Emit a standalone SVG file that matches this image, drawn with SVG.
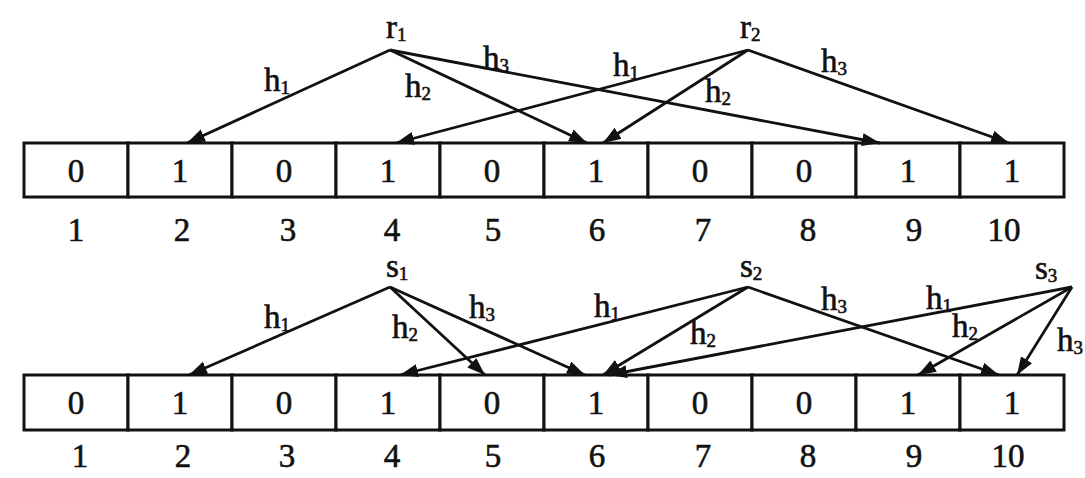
<svg xmlns="http://www.w3.org/2000/svg" width="1085" height="478" viewBox="0 0 1085 478">
<style>
.cell{fill:#fff;stroke:#111;stroke-width:3}
.t{font-family:"Liberation Serif","Times New Roman",serif;font-size:33px;fill:#111;stroke:#111;stroke-width:0.6}
.m{text-anchor:middle}
.sub{font-size:19px}
.c line{stroke:#111;stroke-width:2.8;marker-end:url(#ah)}
</style>
<defs>
<marker id="ah" markerUnits="userSpaceOnUse" markerWidth="20" markerHeight="14" refX="18" refY="6.5" orient="auto">
<path d="M0,0 L18,6.5 L0,13 Z" fill="#111"/>
</marker>
</defs>
<rect width="1085" height="478" fill="#fff"/>

<!-- top array -->
<g id="top-array">
<g id="r-cell1"><rect class="cell" x="24" y="143" width="104" height="54"/><text class="t m" x="76" y="182">0</text></g>
<g id="r-cell2"><rect class="cell" x="128" y="143" width="104" height="54"/><text class="t m" x="180" y="182">1</text></g>
<g id="r-cell3"><rect class="cell" x="232" y="143" width="104" height="54"/><text class="t m" x="284" y="182">0</text></g>
<g id="r-cell4"><rect class="cell" x="336" y="143" width="104" height="54"/><text class="t m" x="388" y="182">1</text></g>
<g id="r-cell5"><rect class="cell" x="440" y="143" width="104" height="54"/><text class="t m" x="492" y="182">0</text></g>
<g id="r-cell6"><rect class="cell" x="544" y="143" width="104" height="54"/><text class="t m" x="596" y="182">1</text></g>
<g id="r-cell7"><rect class="cell" x="648" y="143" width="104" height="54"/><text class="t m" x="700" y="182">0</text></g>
<g id="r-cell8"><rect class="cell" x="752" y="143" width="104" height="54"/><text class="t m" x="804" y="182">0</text></g>
<g id="r-cell9"><rect class="cell" x="856" y="143" width="104" height="54"/><text class="t m" x="908" y="182">1</text></g>
<g id="r-cell10"><rect class="cell" x="960" y="143" width="104" height="54"/><text class="t m" x="1012" y="182">1</text></g>
</g>
<g id="top-index">
<text class="t m" x="76" y="241">1</text>
<text class="t m" x="182" y="241">2</text>
<text class="t m" x="288" y="241">3</text>
<text class="t m" x="392" y="241">4</text>
<text class="t m" x="493" y="241">5</text>
<text class="t m" x="597" y="241">6</text>
<text class="t m" x="703" y="241">7</text>
<text class="t m" x="808" y="241">8</text>
<text class="t m" x="914" y="241">9</text>
<text class="t m" x="1004" y="241">10</text>
</g>

<!-- bottom array -->
<g id="bottom-array">
<g id="s-cell1"><rect class="cell" x="24" y="375" width="104" height="55"/><text class="t m" x="76" y="414">0</text></g>
<g id="s-cell2"><rect class="cell" x="128" y="375" width="104" height="55"/><text class="t m" x="180" y="414">1</text></g>
<g id="s-cell3"><rect class="cell" x="232" y="375" width="104" height="55"/><text class="t m" x="284" y="414">0</text></g>
<g id="s-cell4"><rect class="cell" x="336" y="375" width="104" height="55"/><text class="t m" x="388" y="414">1</text></g>
<g id="s-cell5"><rect class="cell" x="440" y="375" width="104" height="55"/><text class="t m" x="492" y="414">0</text></g>
<g id="s-cell6"><rect class="cell" x="544" y="375" width="104" height="55"/><text class="t m" x="596" y="414">1</text></g>
<g id="s-cell7"><rect class="cell" x="648" y="375" width="104" height="55"/><text class="t m" x="700" y="414">0</text></g>
<g id="s-cell8"><rect class="cell" x="752" y="375" width="104" height="55"/><text class="t m" x="804" y="414">0</text></g>
<g id="s-cell9"><rect class="cell" x="856" y="375" width="104" height="55"/><text class="t m" x="908" y="414">1</text></g>
<g id="s-cell10"><rect class="cell" x="960" y="375" width="104" height="55"/><text class="t m" x="1012" y="414">1</text></g>
</g>
<g id="bottom-index">
<text class="t m" x="80" y="467">1</text>
<text class="t m" x="183" y="467">2</text>
<text class="t m" x="287" y="467">3</text>
<text class="t m" x="392" y="467">4</text>
<text class="t m" x="493" y="467">5</text>
<text class="t m" x="597" y="467">6</text>
<text class="t m" x="703" y="467">7</text>
<text class="t m" x="808" y="467">8</text>
<text class="t m" x="914" y="467">9</text>
<text class="t m" x="1008" y="467">10</text>
</g>

<!-- source nodes -->
<g id="r1"><text class="t" x="386" y="38">r<tspan class="sub" dy="3">1</tspan></text></g>
<g id="r2"><text class="t" x="740" y="38">r<tspan class="sub" dy="3">2</tspan></text></g>
<g id="s1"><text class="t" x="386" y="277">s<tspan class="sub" dy="3">1</tspan></text></g>
<g id="s2"><text class="t" x="740" y="277">s<tspan class="sub" dy="3">2</tspan></text></g>
<g id="s3"><text class="t" x="1035" y="279">s<tspan class="sub" dy="3">3</tspan></text></g>

<!-- connectors -->
<g id="connectors" class="c">
<line x1="390" y1="50" x2="187" y2="143"/>
<line x1="390" y1="50" x2="587" y2="143"/>
<line x1="390" y1="50" x2="880" y2="143"/>
<line x1="748" y1="50" x2="396" y2="143"/>
<line x1="748" y1="50" x2="603" y2="143"/>
<line x1="748" y1="50" x2="1009" y2="143"/>

<line x1="390" y1="287" x2="189" y2="375"/>
<line x1="390" y1="287" x2="485" y2="375"/>
<line x1="390" y1="287" x2="585" y2="375"/>
<line x1="748" y1="287" x2="400" y2="375"/>
<line x1="748" y1="287" x2="603" y2="375"/>
<line x1="748" y1="287" x2="999" y2="375"/>
<line x1="1072" y1="287" x2="609" y2="375"/>
<line x1="1072" y1="287" x2="918" y2="375"/>
<line x1="1072" y1="287" x2="1017" y2="375"/>
</g>

<!-- connector labels -->
<g id="edge-labels">
<text class="t" x="264" y="91">h<tspan class="sub" dy="3">1</tspan></text>
<text class="t" x="405" y="97">h<tspan class="sub" dy="3">2</tspan></text>
<text class="t" x="483" y="69">h<tspan class="sub" dy="3">3</tspan></text>
<text class="t" x="613" y="76">h<tspan class="sub" dy="3">1</tspan></text>
<text class="t" x="705" y="102">h<tspan class="sub" dy="3">2</tspan></text>
<text class="t" x="821" y="72">h<tspan class="sub" dy="3">3</tspan></text>

<text class="t" x="264" y="328">h<tspan class="sub" dy="3">1</tspan></text>
<text class="t" x="392" y="338">h<tspan class="sub" dy="3">2</tspan></text>
<text class="t" x="469" y="318">h<tspan class="sub" dy="3">3</tspan></text>
<text class="t" x="594" y="317">h<tspan class="sub" dy="3">1</tspan></text>
<text class="t" x="690" y="344">h<tspan class="sub" dy="3">2</tspan></text>
<text class="t" x="821" y="310">h<tspan class="sub" dy="3">3</tspan></text>
<text class="t" x="926" y="309">h<tspan class="sub" dy="3">1</tspan></text>
<text class="t" x="952" y="337">h<tspan class="sub" dy="3">2</tspan></text>
<text class="t" x="1057" y="351">h<tspan class="sub" dy="3">3</tspan></text>
</g>
</svg>
